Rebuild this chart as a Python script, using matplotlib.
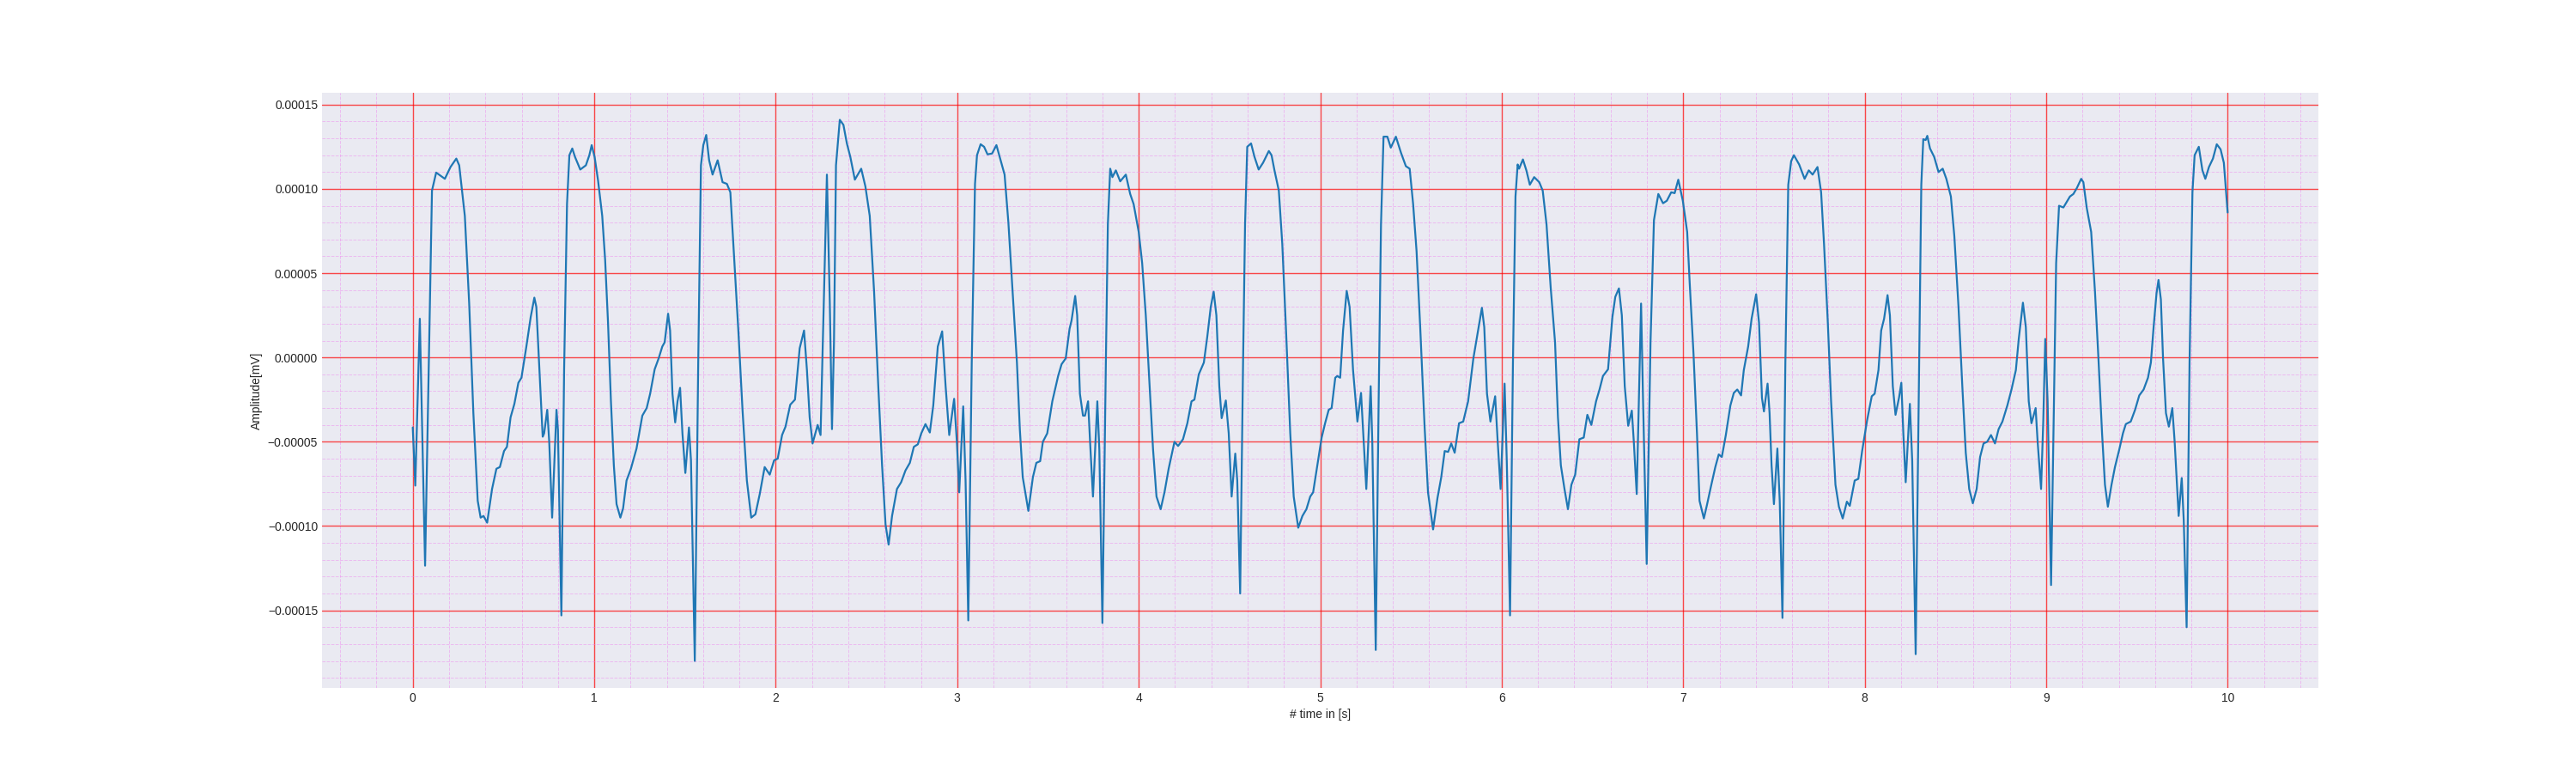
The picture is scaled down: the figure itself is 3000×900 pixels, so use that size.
import numpy as np
import matplotlib
matplotlib.use("Agg")
import matplotlib.pyplot as plt
from matplotlib.ticker import MultipleLocator

# ---- data (time in s, amplitude in units of 1e-5) ----
time_0_2 = [0.000, 0.014, 0.039, 0.068, 0.106, 0.129, 0.177, 0.208, 0.240, 0.256, 0.287, 0.311, 0.334, 0.358,
            0.374, 0.390, 0.410, 0.437, 0.461, 0.480, 0.503, 0.519, 0.539, 0.560, 0.582, 0.599, 0.626, 0.650,
            0.670, 0.681, 0.697, 0.716, 0.724, 0.741, 0.752, 0.768, 0.792, 0.800, 0.819, 0.834, 0.850, 0.863,
            0.879, 0.894, 0.923, 0.954, 0.973, 0.986, 1.002, 1.021, 1.044, 1.060, 1.076, 1.092, 1.108, 1.123,
            1.144, 1.159, 1.178, 1.202, 1.233, 1.265, 1.289, 1.308, 1.333, 1.355, 1.375, 1.388, 1.407, 1.418,
            1.431, 1.446, 1.459, 1.473, 1.486, 1.502, 1.522, 1.533, 1.554, 1.573, 1.588, 1.601, 1.617, 1.633,
            1.652, 1.680, 1.707, 1.731, 1.750, 1.770, 1.794, 1.817, 1.841, 1.865, 1.888, 1.912, 1.939, 1.967,
            1.991]
amp_0_2 = [-4.15, -7.6, 2.3, -12.35, 9.9, 10.97, 10.6, 11.3, 11.8, 11.4, 8.4, 3.2, -3.3, -8.5,
           -9.5, -9.4, -9.8, -7.8, -6.6, -6.5, -5.55, -5.3, -3.55, -2.75, -1.5, -1.2, 0.65, 2.4,
           3.55, 3.0, -0.5, -4.7, -4.5, -3.1, -5.0, -9.5, -3.1, -4.3, -15.3, -0.75, 9.1, 12.0,
           12.4, 11.9, 11.15, 11.4, 12.0, 12.6, 11.9, 10.5, 8.4, 5.8, 2.06, -2.6, -6.4, -8.7,
           -9.5, -8.95, -7.3, -6.6, -5.4, -3.45, -3.0, -2.15, -0.7, -0.05, 0.65, 0.9, 2.6, 1.6,
           -2.15, -3.85, -2.6, -1.8, -4.5, -6.85, -4.15, -6.1, -18.0, -0.3, 11.4, 12.6, 13.2, 11.7,
           10.85, 11.7, 10.4, 10.3, 9.8, 6.05, 1.6, -3.1, -7.3, -9.5, -9.3, -8.1, -6.5, -6.95,
           -6.1]

time_2_4 = [2.011, 2.035, 2.054, 2.080, 2.106, 2.132, 2.156, 2.172, 2.187, 2.203, 2.231, 2.247, 2.282, 2.298,
            2.310, 2.321, 2.332, 2.353, 2.373, 2.392, 2.411, 2.436, 2.471, 2.494, 2.518, 2.542, 2.565, 2.586,
            2.605, 2.622, 2.641, 2.668, 2.691, 2.715, 2.739, 2.761, 2.783, 2.802, 2.825, 2.849, 2.868, 2.893,
            2.917, 2.936, 2.956, 2.983, 2.998, 3.011, 3.033, 3.046, 3.061, 3.080, 3.098, 3.109, 3.129, 3.148,
            3.167, 3.192, 3.216, 3.239, 3.261, 3.282, 3.305, 3.329, 3.345, 3.361, 3.392, 3.417, 3.436, 3.457,
            3.472, 3.496, 3.524, 3.556, 3.575, 3.598, 3.619, 3.630, 3.650, 3.661, 3.676, 3.693, 3.704, 3.721,
            3.732, 3.748, 3.772, 3.783, 3.800, 3.819, 3.830, 3.843, 3.855, 3.874, 3.898, 3.929, 3.953, 3.972]
amp_2_4 = [-6.0, -4.6, -4.1, -2.8, -2.5, 0.55, 1.6, -0.75, -3.55, -5.1, -4.0, -4.6, 10.85, 3.2,
           -4.25, 0.9, 11.4, 14.1, 13.8, 12.7, 11.9, 10.55, 11.2, 10.15, 8.4, 3.9, -1.7, -6.4,
           -9.9, -11.1, -9.4, -7.8, -7.4, -6.7, -6.25, -5.3, -5.15, -4.5, -3.95, -4.45, -2.85, 0.65,
           1.55, -1.7, -4.6, -2.45, -5.0, -8.0, -2.9, -7.3, -15.6, -0.3, 10.3, 12.0, 12.65, 12.5,
           12.05, 12.1, 12.6, 11.7, 10.85, 8.0, 3.9, -0.3, -4.25, -7.1, -9.1, -7.1, -6.25, -6.15,
           -5.0, -4.5, -2.6, -1.1, -0.4, -0.05, 1.7, 2.2, 3.65, 2.5, -2.15, -3.45, -3.45, -2.6,
           -5.0, -8.25, -2.6, -5.45, -15.75, -0.3, 7.9, 11.2, 10.7, 11.1, 10.45, 10.85, 9.7, 9.1]

time_4_6 = [4.000, 4.019, 4.039, 4.060, 4.079, 4.098, 4.121, 4.142, 4.165, 4.197, 4.217, 4.244, 4.268, 4.291,
            4.307, 4.331, 4.359, 4.378, 4.397, 4.413, 4.428, 4.444, 4.457, 4.480, 4.496, 4.512, 4.532, 4.543,
            4.559, 4.575, 4.586, 4.598, 4.619, 4.638, 4.661, 4.685, 4.717, 4.732, 4.748, 4.772, 4.791, 4.811,
            4.835, 4.854, 4.879, 4.902, 4.924, 4.945, 4.961, 4.984, 5.008, 5.027, 5.047, 5.063, 5.083, 5.094,
            5.110, 5.126, 5.146, 5.162, 5.181, 5.205, 5.225, 5.240, 5.254, 5.278, 5.287, 5.306, 5.322, 5.335,
            5.349, 5.370, 5.389, 5.417, 5.445, 5.472, 5.493, 5.512, 5.531, 5.551, 5.575, 5.594, 5.622, 5.646,
            5.667, 5.686, 5.705, 5.722, 5.741, 5.765, 5.788, 5.815, 5.844, 5.859, 5.891, 5.904, 5.919, 5.938,
            5.964, 5.978, 5.994]
amp_4_6 = [7.45, 5.6, 2.5, -1.7, -5.45, -8.25, -9.0, -8.0, -6.6, -5.0, -5.25, -4.85, -3.9, -2.6,
           -2.5, -1.0, -0.3, 1.25, 3.0, 3.9, 2.5, -1.7, -3.6, -2.55, -4.5, -8.25, -5.7, -7.3,
           -14.0, -0.3, 7.9, 12.5, 12.7, 11.9, 11.15, 11.55, 12.25, 12.0, 11.1, 9.9, 6.75, 1.8,
           -4.5, -8.25, -10.1, -9.4, -9.0, -8.25, -8.0, -6.4, -4.75, -3.9, -3.1, -3.0, -1.2, -1.1,
           -1.2, 1.6, 3.95, 3.0, -0.75, -3.8, -2.1, -5.0, -7.8, -1.7, -5.0, -17.35, -2.6, 7.9,
           13.1, 13.1, 12.45, 13.1, 12.15, 11.35, 11.2, 9.1, 6.3, 1.8, -4.05, -8.0, -10.2, -8.35,
           -7.1, -5.55, -5.6, -5.1, -5.65, -3.9, -3.8, -2.6, -0.05, 0.9, 2.95, 1.8, -2.15, -3.8,
           -2.3, -5.0, -7.8]

time_6_8 = [6.016, 6.028, 6.046, 6.062, 6.076, 6.088, 6.096, 6.117, 6.136, 6.155, 6.179, 6.207, 6.226, 6.247,
            6.270, 6.294, 6.310, 6.326, 6.346, 6.365, 6.384, 6.405, 6.428, 6.452, 6.472, 6.494, 6.520, 6.539,
            6.558, 6.586, 6.610, 6.626, 6.646, 6.662, 6.678, 6.697, 6.717, 6.728, 6.744, 6.768, 6.779, 6.799,
            6.820, 6.839, 6.863, 6.889, 6.910, 6.934, 6.953, 6.973, 6.998, 7.022, 7.036, 7.057, 7.076, 7.090,
            7.114, 7.132, 7.153, 7.177, 7.196, 7.213, 7.235, 7.260, 7.279, 7.298, 7.319, 7.334, 7.358, 7.377,
            7.402, 7.418, 7.434, 7.445, 7.465, 7.476, 7.487, 7.500, 7.519, 7.532, 7.547, 7.563, 7.579, 7.595,
            7.610, 7.639, 7.669, 7.692, 7.713, 7.740, 7.760, 7.776, 7.797, 7.815, 7.839, 7.858, 7.879, 7.902,
            7.918, 7.945, 7.965, 7.986]
amp_6_8 = [-1.55, -6.15, -15.3, -0.3, 9.55, 11.45, 11.2, 11.75, 11.1, 10.25, 10.7, 10.4, 9.9, 7.9,
           4.15, 0.9, -3.55, -6.4, -7.8, -9.0, -7.55, -6.95, -4.85, -4.75, -3.4, -4.0, -2.6, -1.9,
           -1.1, -0.7, 2.4, 3.6, 4.1, 2.5, -1.7, -4.05, -3.15, -5.0, -8.1, 3.2, -2.6, -12.25,
           0.9, 8.15, 9.7, 9.15, 9.3, 9.8, 9.75, 10.55, 9.3, 7.45, 4.4, 0.2, -4.5, -8.5,
           -9.55, -8.7, -7.65, -6.5, -5.75, -5.9, -4.6, -2.85, -2.1, -1.9, -2.25, -0.75, 0.65, 2.3,
           3.75, 2.05, -2.4, -3.2, -1.55, -3.3, -6.4, -8.7, -5.4, -8.5, -15.45, -0.3, 10.25, 11.65,
           12.0, 11.45, 10.6, 11.1, 10.85, 11.3, 9.8, 6.75, 2.05, -2.6, -7.55, -8.85, -9.55, -8.55,
           -8.8, -7.3, -7.2, -5.55]

time_8_10 = [8.013, 8.039, 8.055, 8.076, 8.091, 8.107, 8.126, 8.139, 8.155, 8.170, 8.189, 8.202, 8.213, 8.226,
             8.249, 8.262, 8.281, 8.300, 8.312, 8.323, 8.336, 8.345, 8.360, 8.383, 8.407, 8.430, 8.450, 8.475,
             8.494, 8.517, 8.538, 8.557, 8.576, 8.596, 8.617, 8.636, 8.655, 8.675, 8.696, 8.718, 8.738, 8.759,
             8.786, 8.809, 8.833, 8.849, 8.872, 8.888, 8.904, 8.919, 8.942, 8.953, 8.972, 8.984, 8.995, 9.008,
             9.027, 9.043, 9.055, 9.071, 9.095, 9.131, 9.150, 9.169, 9.193, 9.205, 9.224, 9.248, 9.269, 9.288,
             9.308, 9.324, 9.340, 9.360, 9.379, 9.403, 9.423, 9.439, 9.466, 9.490, 9.513, 9.537, 9.561, 9.577,
             9.592, 9.608, 9.619, 9.632, 9.644, 9.660, 9.676, 9.695, 9.708, 9.730, 9.747, 9.758, 9.774, 9.790,
             9.806, 9.818, 9.841, 9.861, 9.877, 9.897, 9.919, 9.940, 9.961, 9.979, 10.000]
amp_8_10 = [-3.75, -2.3, -2.15, -0.75, 1.6, 2.3, 3.7, 2.5, -1.7, -3.4, -2.4, -1.5, -4.5, -7.4,
            -2.75, -6.15, -17.6, -0.3, 10.25, 12.95, 12.9, 13.15, 12.4, 11.9, 11.0, 11.2, 10.6, 9.55,
            7.2, 3.0, -1.7, -5.65, -7.8, -8.65, -7.8, -5.9, -5.1, -5.0, -4.6, -5.1, -4.25, -3.8,
            -2.85, -1.9, -0.75, 1.1, 3.25, 1.8, -2.6, -3.9, -3.0, -5.0, -7.8, -3.8, 1.1, -2.6,
            -13.5, -2.6, 5.6, 9.0, 8.9, 9.55, 9.7, 10.05, 10.6, 10.4, 8.85, 7.45, 3.9, -0.05,
            -4.5, -7.55, -8.85, -7.55, -6.5, -5.45, -4.5, -3.95, -3.8, -3.1, -2.25, -1.9, -1.2, -0.3,
            1.8, 3.8, 4.6, 3.45, -0.05, -3.3, -4.1, -3.0, -5.0, -9.4, -7.15, -9.65, -16.0, -0.3,
            9.8, 12.0, 12.5, 11.1, 10.6, 11.3, 11.8, 12.65, 12.35, 11.55, 8.6]

AMP_UNIT = 1e-5
x_label = "# time in [s]"
y_label = "Amplitude[mV]"

time_s = np.concatenate([time_0_2, time_2_4, time_4_6, time_6_8, time_8_10])
amplitude = np.concatenate([amp_0_2, amp_2_4, amp_4_6, amp_6_8, amp_8_10]) * AMP_UNIT

plt.style.use("seaborn-v0_8-darkgrid")
fig, ax = plt.subplots(figsize=(30, 9), dpi=100)

ax.plot(time_s, amplitude, color="#1f77b4", linewidth=1.6, solid_joinstyle="round")

ax.xaxis.set_major_locator(MultipleLocator(1))
ax.xaxis.set_minor_locator(MultipleLocator(0.2))
ax.yaxis.set_major_locator(MultipleLocator(5e-5))
ax.yaxis.set_minor_locator(MultipleLocator(1e-5))
ax.grid(which="major", color="red", alpha=0.7, linewidth=1.0, linestyle="-")
ax.grid(which="minor", color="violet", alpha=0.45, linewidth=0.7, linestyle="--")
ax.tick_params(which="both", length=0)

ax.set_xlabel(x_label)
ax.set_ylabel(y_label)

fig.savefig("out.png", dpi=100)
